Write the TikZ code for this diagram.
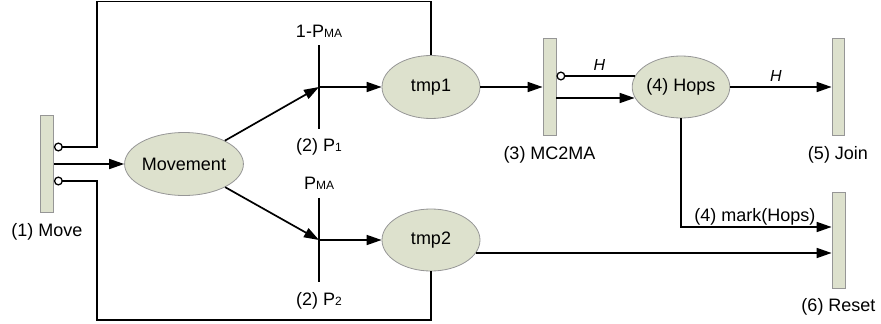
\documentclass[tikz,border=0pt]{standalone}
\usepackage{fontspec}
\setmainfont{Liberation Sans}
\usetikzlibrary{arrows.meta,shapes.geometric}
\definecolor{placefill}{RGB}{221,225,205}
\definecolor{placedraw}{RGB}{150,150,150}
\newcommand\smallsub[1]{{\fontsize{12}{12}\selectfont #1}}
\begin{document}
\begin{tikzpicture}[x=1pt,y=-1pt,font=\fontsize{18}{20}\selectfont,
  place/.style={ellipse,draw=placedraw,fill=placefill,line width=0.8pt,inner sep=0},
  bar/.style={rectangle,draw=placedraw,fill=placefill,line width=0.8pt,minimum width=13pt,minimum height=97pt,inner sep=0},
  trans/.style={rectangle,minimum width=0pt,minimum height=83pt,inner sep=0},
  conn/.style={line width=1.7pt},
  arr/.style={conn,-{Triangle[length=15pt,width=10pt]}},
  inh/.style={conn,{Circle[open,length=9pt,width=9pt,line width=1.3pt]}-},
  blbl/.style={label distance=7pt},
  hlbl/.style={inner sep=0,font=\fontsize{16}{18}\selectfont\itshape}]
\useasboundingbox (0,0) rectangle (881,324);
% bars (transitions)
\node[bar,label={[blbl]below:(1) Move}] (move) at (47,164) {};
\node[bar,label={[blbl]below:(3) MC2MA}] (mc2ma) at (549.5,87) {};
\node[bar,minimum width=12pt,label={[blbl]below:(5) Join}] (join) at (838,87) {};
\node[bar,minimum height=96pt,label={[blbl]below:(6) Reset}] (reset) at (838.5,240) {};
% places
\node[place,minimum width=111pt,minimum height=63pt] (movement) at (184,164) {Movement};
\node[place,minimum width=98pt,minimum height=63pt] (tmp1) at (431,87) {tmp1};
\node[place,minimum width=98pt,minimum height=62pt] (tmp2) at (431,240) {tmp2};
\node[place,minimum width=86pt,minimum height=62pt] (hops) at (681,87) {(4) Hops};
% probabilistic branches
\node[trans,label={[label distance=4.3pt]above:1-P\smallsub{MA}},
  label={[label distance=6.5pt]below:(2) P\smallsub{1}}] (p1) at (319,87) {};
\node[trans,minimum height=84pt,label={[label distance=4.3pt]above:P\smallsub{MA}},
  label={[label distance=6.5pt]below:(2) P\smallsub{2}}] (p2) at (319,240) {};
\draw[conn] (p1.north) -- (p1.south);
\draw[conn] (p2.north) -- (p2.south);
% connectors
\draw[arr] (move) -- (movement);
\draw[inh] ([yshift=17pt]move.east) -| (97,1.5) -| (tmp1.north);
\draw[inh] ([yshift=-17pt]move.east) -| (97,320) -| (tmp2.south);
\draw[arr] (movement) -- (p1.center);
\draw[arr] (movement) -- (p2.center);
\draw[arr] (p1.center) -- (tmp1);
\draw[arr] (p2.center) -- (tmp2);
\draw[arr] (tmp1) -- (mc2ma);
\draw[inh] ([yshift=11pt]mc2ma.east) -- ([xshift=2.8pt,yshift=11pt]hops.west)
  node[hlbl,pos=0.55,above=5pt] {H};
\draw[arr] ([yshift=-11pt]mc2ma.east) -- ([xshift=2.8pt,yshift=-11pt]hops.west);
\draw[arr] (hops) -- (join) node[hlbl,pos=0.45,above=4.5pt] {H};
\draw[arr] (hops.south) |- ([yshift=13pt]reset.west)
  node[inner sep=0,pos=0.745,above=1pt] {(4) mark(Hops)};
\draw[arr] ([xshift=-4.5pt,yshift=-13pt]tmp2.east) -- ([yshift=-13pt]reset.west);
\end{tikzpicture}
\end{document}
